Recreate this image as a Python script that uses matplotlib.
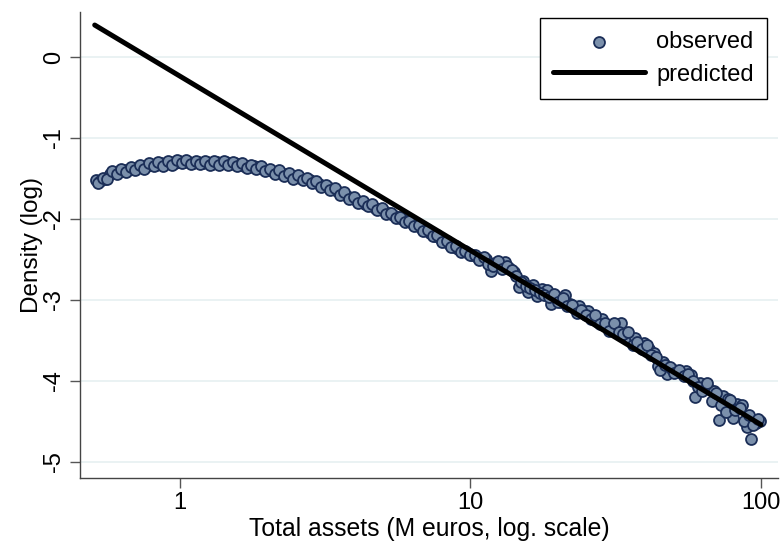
import matplotlib
matplotlib.use("Agg")
import matplotlib.pyplot as plt
from matplotlib.ticker import FixedLocator, NullLocator

plt.rcParams["font.family"] = ["Liberation Sans", "DejaVu Sans"]

# observed density (log) against total assets (M euros)
assets = [
    0.513, 0.532, 0.552, 0.573, 0.594, 0.617, 0.640, 0.664, 0.689, 0.715,
    0.741, 0.769, 0.798, 0.828, 0.859, 0.891, 0.925, 0.959, 0.995, 1.033,
    1.072, 1.112, 1.153, 1.197, 1.242, 1.288, 1.337, 1.387, 1.439, 1.493,
    1.549, 1.607, 1.667, 1.730, 1.795, 1.862, 1.932, 2.005, 2.080, 2.158,
    2.239, 2.323, 2.410, 2.500, 2.594, 2.692, 2.793, 2.897, 3.006, 3.119,
    3.236, 3.357, 3.483, 3.614, 3.750, 3.891, 4.037, 4.188, 4.345, 4.508,
    4.677, 4.853, 5.035, 5.224, 5.420, 5.623, 5.835, 6.053, 6.281, 6.516,
    6.761, 7.015, 7.278, 7.551, 7.834, 8.128, 8.433, 8.750, 9.078, 9.419,
    9.772, 10.14, 10.52, 10.91, 11.32, 11.75, 12.19, 12.65, 13.12, 13.61,
    14.13, 14.66, 15.21, 15.78, 16.37, 16.98, 17.62, 18.28, 18.97, 19.68,
    20.42, 21.18, 21.98, 22.80, 23.66, 24.55, 25.47, 26.42, 27.42, 28.45,
    29.51, 30.62, 31.77, 32.96, 34.20, 35.48, 36.81, 38.19, 39.63, 41.12,
    42.66, 44.26, 45.92, 47.64, 49.43, 51.29, 53.21, 55.21, 57.28, 59.43,
    61.66, 63.97, 66.37, 68.87, 71.45, 74.13, 76.91, 79.80, 82.79, 85.90,
    89.13, 92.47, 95.94, 99.54,
]
density = [
    -1.52, -1.53, -1.50, -1.45, -1.42, -1.41, -1.40, -1.39, -1.37, -1.36,
    -1.36, -1.34, -1.33, -1.33, -1.31, -1.32, -1.30, -1.31, -1.28, -1.30,
    -1.29, -1.31, -1.29, -1.31, -1.30, -1.32, -1.30, -1.31, -1.30, -1.32,
    -1.31, -1.33, -1.34, -1.36, -1.35, -1.37, -1.38, -1.40, -1.41, -1.42,
    -1.44, -1.45, -1.47, -1.48, -1.49, -1.51, -1.52, -1.54, -1.57, -1.59,
    -1.61, -1.63, -1.66, -1.69, -1.71, -1.74, -1.77, -1.79, -1.81, -1.83,
    -1.86, -1.88, -1.90, -1.93, -1.95, -1.98, -2.00, -2.03, -2.05, -2.08,
    -2.11, -2.14, -2.17, -2.21, -2.24, -2.27, -2.31, -2.34, -2.37, -2.40,
    -2.42, -2.44, -2.47, -2.48, -2.50, -2.64, -2.54, -2.57, -2.53, -2.60,
    -2.66, -2.84, -2.76, -2.90, -2.82, -2.95, -2.86, -2.88, -3.05, -2.97,
    -3.02, -2.94, -3.05, -3.10, -3.08, -3.14, -3.13, -3.20, -3.27, -3.24,
    -3.32, -3.35, -3.31, -3.29, -3.45, -3.50, -3.47, -3.57, -3.53, -3.60,
    -3.66, -3.82, -3.76, -3.92, -3.85, -3.88, -3.90, -3.88, -3.93, -4.20,
    -4.02, -4.06, -4.10, -4.12, -4.48, -4.18, -4.22, -4.46, -4.28, -4.30,
    -4.57, -4.72, -4.52, -4.49,
]
# second set of bins lying between the ones above
assets_mid = [
    0.5225, 0.5419, 0.5623, 0.5837, 0.6050, 0.6285, 0.6519, 0.6764, 0.7018, 0.7283,
    0.7548, 0.7833, 0.8128, 0.8434, 0.8750, 0.9076, 0.9422, 0.9768, 1.0135, 1.0522,
    1.0919, 1.1327, 1.1744, 1.2193, 1.2651, 1.3120, 1.3619, 1.4128, 1.4658, 1.5208,
    1.5778, 1.6369, 1.6980, 1.7622, 1.8284, 1.8966, 1.9679, 2.0423, 2.1187, 2.1981,
    2.2806, 2.3662, 2.4548, 2.5465, 2.6422, 2.7421, 2.8450, 2.9509, 3.0619, 3.1770,
    3.2962, 3.4194, 3.5478, 3.6812, 3.8198, 3.9634, 4.1121, 4.2659, 4.4258, 4.5918,
    4.7640, 4.9433, 5.1287, 5.3212, 5.5208, 5.7276, 5.9435, 6.1656, 6.3978, 6.6372,
    6.8868, 7.1455, 7.4134, 7.6914, 7.9797, 8.2792, 8.5899, 8.9128, 9.2469, 9.5942,
    9.9538, 10.329, 10.716, 11.113, 11.531, 11.969, 12.417, 12.885, 13.364, 13.863,
    14.393, 14.933, 15.493, 16.074, 16.674, 17.296, 17.948, 18.620, 19.323, 20.046,
    20.800, 21.574, 22.389, 23.224, 24.100, 25.007, 25.944, 26.911, 27.930, 28.979,
    30.059, 31.190, 32.361, 33.573, 34.836, 36.140, 37.495, 38.900, 40.367, 41.885,
    43.454, 45.083, 46.774, 48.526, 50.349, 52.244, 54.200, 56.237, 58.345, 60.535,
    62.807, 65.160, 67.605, 70.151, 72.779, 75.509, 78.341, 81.284, 84.330, 87.498,
    90.788, 94.190, 97.724,
]
density_mid = [
    -1.55, -1.49, -1.50, -1.41, -1.44, -1.38, -1.42, -1.36, -1.39, -1.33,
    -1.38, -1.31, -1.35, -1.30, -1.34, -1.28, -1.33, -1.27, -1.31, -1.27,
    -1.32, -1.28, -1.32, -1.28, -1.33, -1.28, -1.33, -1.28, -1.33, -1.29,
    -1.34, -1.31, -1.37, -1.33, -1.38, -1.35, -1.41, -1.38, -1.44, -1.40,
    -1.47, -1.43, -1.50, -1.46, -1.52, -1.49, -1.55, -1.53, -1.60, -1.58,
    -1.64, -1.62, -1.70, -1.67, -1.75, -1.73, -1.80, -1.78, -1.84, -1.82,
    -1.89, -1.87, -1.94, -1.92, -1.99, -1.97, -2.04, -2.02, -2.09, -2.07,
    -2.15, -2.13, -2.21, -2.20, -2.28, -2.27, -2.35, -2.33, -2.41, -2.39,
    -2.45, -2.44, -2.51, -2.47, -2.56, -2.58, -2.52, -2.62, -2.58, -2.63,
    -2.70, -2.78, -2.83, -2.85, -2.88, -2.91, -2.94, -2.96, -2.93, -3.03,
    -2.97, -3.08, -3.06, -3.16, -3.12, -3.18, -3.23, -3.18, -3.30, -3.28,
    -3.38, -3.28, -3.40, -3.42, -3.40, -3.55, -3.52, -3.60, -3.56, -3.68,
    -3.70, -3.86, -3.80, -3.83, -3.90, -3.86, -3.94, -3.92, -4.00, -4.08,
    -4.12, -4.03, -4.25, -4.15, -4.30, -4.38, -4.24, -4.36, -4.33, -4.50,
    -4.42, -4.54, -4.47,
]

# fitted power law (straight line on log scale)
pred_assets = [0.509, 100.0]
pred_density = [0.395, -4.54]

x_ticks = [1, 10, 100]
y_ticks = [0, -1, -2, -3, -4, -5]

fig = plt.figure(figsize=(7.84, 5.45), dpi=100)
ax = fig.add_axes([80 / 784, 1 - 478 / 545, 698 / 784, 466 / 545])

ax.scatter(assets + assets_mid, density + density_mid, s=62, color="#7b90ab",
           edgecolors="#1b2e57", linewidths=1.3, zorder=2, label="observed")
ax.plot(pred_assets, pred_density, color="black", lw=3.6,
        solid_capstyle="round", zorder=3, label="predicted")

ax.set_xscale("log")
ax.set_xlim(0.453, 114.4)
ax.set_ylim(-5.198, 0.556)
ax.xaxis.set_major_locator(FixedLocator(x_ticks))
ax.xaxis.set_minor_locator(NullLocator())
ax.set_xticklabels([str(t) for t in x_ticks])
ax.set_yticks(y_ticks)
ax.set_yticklabels([str(t) for t in y_ticks], rotation=90, va="center")

for y in y_ticks:
    ax.axhline(y, color="#eaf2f3", lw=1.4, zorder=0)

for side in ["top", "right"]:
    ax.spines[side].set_visible(False)
for side in ["left", "bottom"]:
    ax.spines[side].set_color("#444444")
    ax.spines[side].set_linewidth(1.0)

ax.tick_params(axis="both", length=7, width=1.0, color="#555555",
               labelsize=17, labelcolor="black")
ax.tick_params(axis="x", pad=3)
ax.tick_params(axis="y", pad=4)

ax.set_xlabel("Total assets (M euros, log. scale)", fontsize=17.8, labelpad=2)
ax.set_ylabel("Density (log)", fontsize=17.5, labelpad=0)

leg = ax.legend(loc="upper right", bbox_to_anchor=(767 / 784, 1 - 18 / 545),
                bbox_transform=fig.transFigure, fontsize=17, scatterpoints=1,
                handlelength=3.9, handletextpad=0.5, labelspacing=0.45,
                borderpad=0.55, borderaxespad=0, fancybox=False, framealpha=1)
leg.get_frame().set_edgecolor("black")
leg.get_frame().set_linewidth(1.0)

fig.savefig("out.png", dpi=100)
